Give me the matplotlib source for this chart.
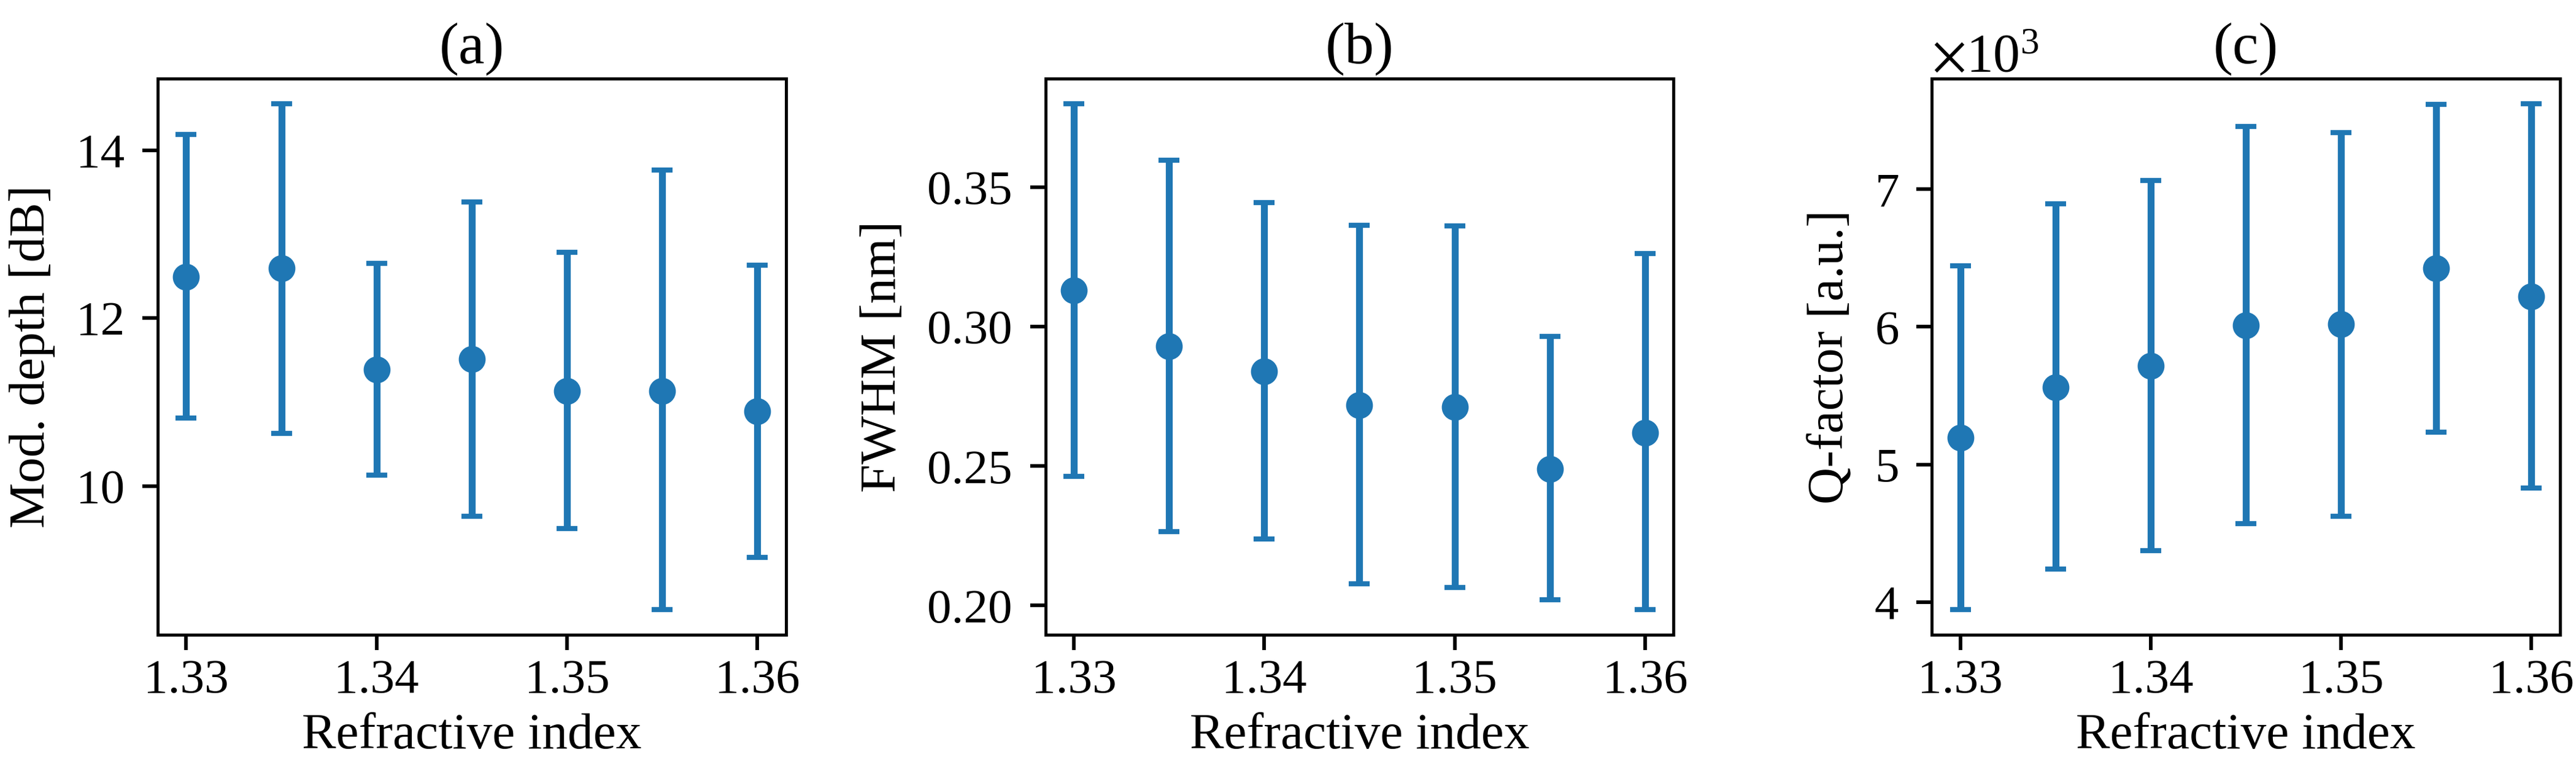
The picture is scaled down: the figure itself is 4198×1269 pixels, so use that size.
import matplotlib
matplotlib.use("Agg")
import matplotlib.pyplot as plt

# 折射率
n_index = [1.330, 1.335, 1.340, 1.345, 1.350, 1.355, 1.360]

# (a) 调制深度 [dB]：均值，上限，下限
mod_depth = [12.49, 12.59, 11.39, 11.51, 11.13, 11.13, 10.89]
mod_top = [14.19, 14.55, 12.65, 13.38, 12.78, 13.76, 12.63]
mod_bot = [10.81, 10.63, 10.13, 9.64, 9.49, 8.53, 9.15]

# (b) FWHM [nm]
fwhm = [0.3129, 0.2930, 0.2839, 0.2718, 0.2712, 0.2489, 0.2620]
fwhm_top = [0.3798, 0.3596, 0.3445, 0.3362, 0.3361, 0.2964, 0.3261]
fwhm_bot = [0.2464, 0.2266, 0.2239, 0.2078, 0.2064, 0.2020, 0.1986]

# (c) Q-factor
qf = [5193, 5559, 5714, 6011, 6018, 6423, 6221]
qf_top = [6443, 6895, 7065, 7456, 7413, 7615, 7619]
qf_bot = [3946, 4240, 4374, 4569, 4624, 5235, 4830]

x_ticks = [1.33, 1.34, 1.35, 1.36]
y_ticks = {'a': [10, 12, 14], 'b': [0.20, 0.25, 0.30, 0.35], 'c': [4000, 5000, 6000, 7000]}
titles = ['(a)', '(b)', '(c)']
ylabels = ['Mod. depth [dB]', 'FWHM [nm]', 'Q-factor [a.u.]']

plt.rcParams['font.family'] = ['Liberation Serif', 'DejaVu Serif']
plt.rcParams['mathtext.fontset'] = 'stix'
plt.rcParams['font.size'] = 20
plt.rcParams['axes.linewidth'] = 1.2
plt.rcParams['xtick.major.size'] = 6
plt.rcParams['ytick.major.size'] = 6
plt.rcParams['xtick.major.width'] = 1.4
plt.rcParams['ytick.major.width'] = 1.4
plt.rcParams['xtick.labelsize'] = 19
plt.rcParams['ytick.labelsize'] = 19
plt.rcParams['ytick.major.pad'] = 7

fig = plt.figure(figsize=(4198 / 300, 1269 / 300), dpi=300)
lefts = [0.0612, 0.4058, 0.7499]
width = 0.2439
bottom = 0.1852
height = 0.7138

series = [(mod_depth, mod_top, mod_bot), (fwhm, fwhm_top, fwhm_bot), (qf, qf_top, qf_bot)]
for i, key in enumerate(['a', 'b', 'c']):
    ax = fig.add_axes([lefts[i], bottom, width, height])
    y, top, bot = series[i]
    err_low = [m - b for m, b in zip(y, bot)]
    err_high = [t - m for m, t in zip(y, top)]
    ax.errorbar(n_index, y, yerr=[err_low, err_high], fmt='o', color='#1f77b4',
                markersize=9.5, elinewidth=2.7, capsize=4, capthick=2.0)
    ax.set_xticks(x_ticks)
    ax.set_yticks(y_ticks[key])
    ax.set_title(titles[i], fontsize=23, pad=6)
    ax.set_xlabel('Refractive index')
    ax.set_ylabel(ylabels[i], labelpad=8)
    if key == 'b':
        ax.set_yticklabels(['0.20', '0.25', '0.30', '0.35'])
    if key == 'c':
        ax.ticklabel_format(axis='y', style='sci', scilimits=(3, 3), useMathText=True)
        ax.yaxis.get_offset_text().set_fontsize(21)

fig.savefig('out.png', dpi=300)
